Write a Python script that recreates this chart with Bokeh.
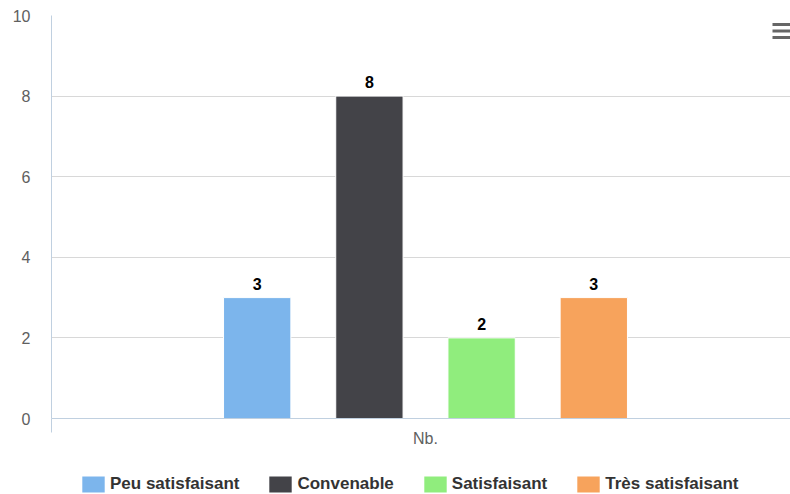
from bokeh.plotting import figure
from bokeh.layouts import column
from bokeh.models import (Range1d, FixedTicker, ColumnDataSource, Legend,
                          LegendItem, BoxAnnotation)
from bokeh.embed import file_html
from bokeh.resources import INLINE
from bokeh.core.properties import value

# ---- data ----
category = "Nb."
series_names = ["Peu satisfaisant", "Convenable", "Satisfaisant", "Très satisfaisant"]
series_values = [3, 8, 2, 3]
series_colors = ["#7cb5ec", "#434348", "#90ed7d", "#f7a35c"]
y_ticks = [0, 2, 4, 6, 8, 10]
y_max = 10

# ---- layout (Highcharts-like column grouping) ----
group_padding = 0.2
point_padding = 0.2
n = len(series_names)
slot = (1 - 2 * group_padding) / n
bar_w = slot * (1 - 2 * point_padding)
xs = [group_padding + slot * (i + 0.5) for i in range(n)]

W = 790
H_MAIN, H_LEG = 454, 40
FONT = "Liberation Sans"

p = figure(width=W, height=H_MAIN, output_backend="svg", toolbar_location=None,
           x_range=Range1d(0, 739 / 748), y_range=Range1d(0, y_max),
           min_border_left=51, min_border_right=0, min_border_top=15,
           min_border_bottom=36)
p.outline_line_color = None
p.background_fill_color = "white"
p.border_fill_color = "white"

src = ColumnDataSource(dict(x=xs, top=series_values, color=series_colors,
                            name=series_names,
                            label=[str(v) for v in series_values]))
bars = p.vbar(x="x", top="top", width=bar_w, fill_color="color",
              line_color="white", line_width=1, source=src)

p.text(x="x", y="top", text="label", source=src, text_align="center",
       text_baseline="bottom", y_offset=-8, text_font=value(FONT),
       text_font_size="16px", text_font_style="bold", text_color="#000000")

# x axis
p.xaxis.ticker = FixedTicker(ticks=[0.5], minor_ticks=[0, 1])
p.xaxis.major_label_overrides = {0.5: category}
p.xaxis.major_tick_line_color = None
p.xaxis.major_tick_out = 0
p.xaxis.major_tick_in = 0
p.xaxis.minor_tick_out = 14
p.xaxis.minor_tick_in = 0
p.xaxis.minor_tick_line_color = "#C0D0E0"
p.xaxis.axis_line_color = "#C0D0E0"
p.xaxis.major_label_standoff = -3
p.xaxis.major_label_text_font = FONT
p.xaxis.major_label_text_font_size = "16px"
p.xaxis.major_label_text_color = "#606060"

# y axis
p.yaxis.ticker = FixedTicker(ticks=y_ticks)
p.yaxis.major_tick_out = 0
p.yaxis.major_tick_in = 0
p.yaxis.minor_tick_line_color = None
p.yaxis.axis_line_color = "#C0D0E0"
p.yaxis.major_label_standoff = 21
p.yaxis.major_label_text_font = FONT
p.yaxis.major_label_text_font_size = "16px"
p.yaxis.major_label_text_color = "#606060"

p.xgrid.grid_line_color = None
p.ygrid.ticker = FixedTicker(ticks=y_ticks)
p.ygrid.grid_line_color = "#D8D8D8"

# context-menu icon (screen units, relative to the plot frame)
for top in (395.5, 389, 382.5):
    p.add_layout(BoxAnnotation(left=721, right=739, top=top, bottom=top - 3,
                               left_units="screen", right_units="screen",
                               top_units="screen", bottom_units="screen",
                               fill_color="#666666", fill_alpha=1,
                               line_color=None))

# ---- legend strip (frame aligned with the chart's frame by the column) ----
leg = figure(width=W, height=H_LEG, output_backend="svg", toolbar_location=None,
             x_range=Range1d(0, 1), y_range=Range1d(-2, -1),
             min_border_left=51, min_border_right=0, min_border_top=0,
             min_border_bottom=0)
leg.axis.visible = False
leg.grid.visible = False
leg.outline_line_color = None
leg.border_fill_color = "white"
leg.background_fill_color = "white"

# same series data; hidden renderer, only its legend glyphs are shown
leg_bars = leg.vbar(x="x", top="top", width=bar_w, fill_color="color",
                    line_color=None, source=src)
leg_bars.visible = False

legend = Legend(items=[LegendItem(label=nm, renderers=[leg_bars], index=i)
                       for i, nm in enumerate(series_names)],
                location=(28, 0), orientation="horizontal",
                glyph_width=28, glyph_height=20, label_standoff=3, spacing=27,
                padding=0, margin=0, label_height=20, click_policy="none",
                border_line_color=None, background_fill_alpha=0,
                label_text_font=FONT, label_text_font_size="17px",
                label_text_font_style="bold", label_text_color="#333333")
leg.add_layout(legend)

open("out.html", "w").write(file_html(column(p, leg), INLINE))
